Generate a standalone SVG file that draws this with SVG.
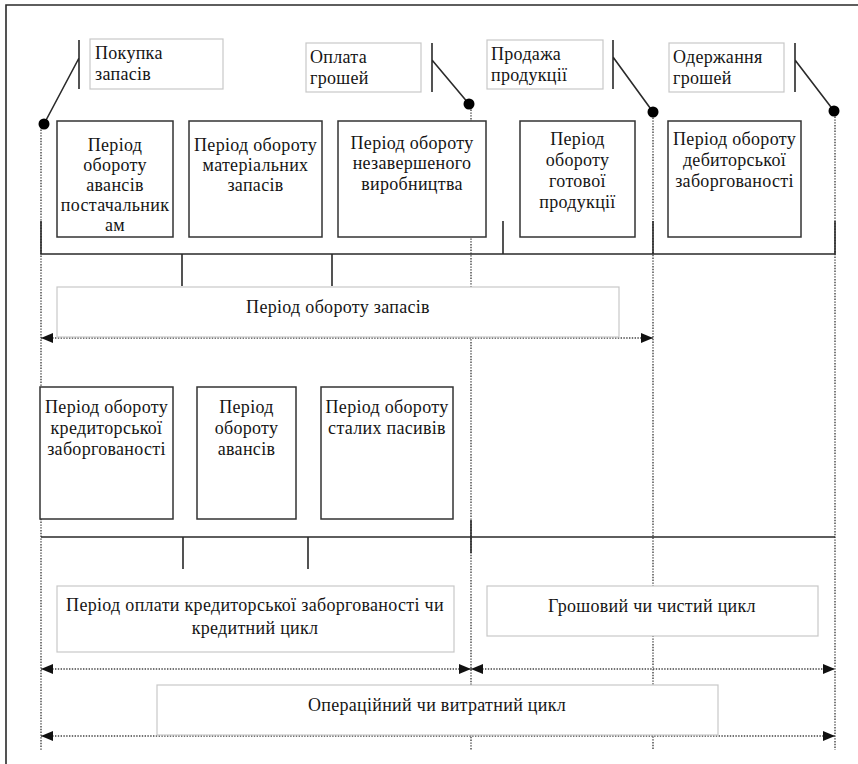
<svg xmlns="http://www.w3.org/2000/svg" width="858" height="764" viewBox="0 0 858 764">
<style>
text{font-family:"Liberation Serif","Times New Roman",serif;font-size:18px;fill:#151515;letter-spacing:0.3px}
.c{text-anchor:middle}
.box{fill:#fff;stroke:#333;stroke-width:1.5}
.lbl{fill:#fff;stroke:#c8c8c8;stroke-width:1.2}
.sol{stroke:#2a2a2a;stroke-width:1.6;fill:none}
.dot{stroke:#444;stroke-width:1.4;stroke-dasharray:1.4 1.4;fill:none}
.arr{stroke:#444;stroke-width:1.4;stroke-dasharray:1.4 1.4;fill:none;marker-start:url(#ah);marker-end:url(#ah)}
</style>
<defs>
<marker id="ah" viewBox="0 0 12 10" refX="12" refY="5" markerWidth="12" markerHeight="10" markerUnits="userSpaceOnUse" orient="auto-start-reverse">
<path d="M0,0 L12,5 L0,10 z" fill="#111"/>
</marker>
</defs>
<rect width="858" height="764" fill="#fff"/>
<path class="sol" d="M6,764 V5 H858"/>

<g id="connectors">
<path class="dot" d="M41,124 V750 M471,104 V750 M653,112 V750 M835,111 V750"/>
<path class="sol" d="M41,221 V254 H835 V221 M503,221 V254 M653,221 V254 M182,254 V286 M332,254 V286"/>
<path class="sol" d="M41,537 H835 M183,537 V569 M308,537 V569 M471,520 V553"/>
<path class="sol" d="M79,40 V89 M79,58 L44,124 M432,43 V92 M432,60 L469,104 M613,40 V89 M613,57 L653,112 M795,43 V92 M795,60 L834,111"/>
<circle cx="44" cy="124" r="5.5" fill="#000"/>
<circle cx="469" cy="104" r="5.5" fill="#000"/>
<circle cx="653" cy="112" r="5.5" fill="#000"/>
<circle cx="834" cy="111" r="5.5" fill="#000"/>
<path class="arr" d="M41,338 H653"/>
<path class="arr" d="M41,669 H471"/>
<path class="arr" d="M471,669 H835"/>
<path class="arr" d="M41,736 H835"/>
</g>

<g id="ev1"><rect class="lbl" x="90" y="39" width="133" height="50"/><text x="95" y="59">Покупка</text><text x="95" y="80">запасів</text></g>
<g id="ev2"><rect class="lbl" x="306" y="43" width="115" height="49"/><text x="310" y="63">Оплата</text><text x="310" y="84">грошей</text></g>
<g id="ev3"><rect class="lbl" x="487" y="40" width="116" height="49"/><text x="491" y="60">Продажа</text><text x="491" y="81">продукції</text></g>
<g id="ev4"><rect class="lbl" x="669" y="43" width="115" height="49"/><text x="673" y="63">Одержання</text><text x="673" y="84">грошей</text></g>

<g id="b1"><rect class="box" x="57" y="121" width="116" height="116"/>
<text class="c" x="115" y="151">Період</text><text class="c" x="115" y="171">обороту</text><text class="c" x="115" y="191">авансів</text><text class="c" x="115" y="211">постачальник</text><text class="c" x="115" y="231">ам</text></g>
<g id="b2"><rect class="box" x="189" y="121" width="133" height="116"/>
<text class="c" x="255.5" y="151">Період обороту</text><text class="c" x="255.5" y="171">матеріальних</text><text class="c" x="255.5" y="191">запасів</text></g>
<g id="b3"><rect class="box" x="338" y="121" width="148" height="116"/>
<text class="c" x="412" y="149">Період обороту</text><text class="c" x="412" y="169">незавершеного</text><text class="c" x="412" y="190">виробництва</text></g>
<g id="b4"><rect class="box" x="520" y="121" width="115" height="116"/>
<text class="c" x="577.5" y="145">Період</text><text class="c" x="577.5" y="166">обороту</text><text class="c" x="577.5" y="187">готової</text><text class="c" x="577.5" y="208">продукції</text></g>
<g id="b5"><rect class="box" x="668" y="121" width="133" height="116"/>
<text class="c" x="734.5" y="145">Період обороту</text><text class="c" x="734.5" y="166">дебиторської</text><text class="c" x="734.5" y="187">заборгованості</text></g>

<g id="p1"><rect class="lbl" x="57" y="287" width="562" height="50"/><text class="c" x="338" y="313">Період обороту запасів</text></g>

<g id="c1"><rect class="box" x="40" y="387" width="133" height="132"/>
<text class="c" x="106.5" y="413">Період обороту</text><text class="c" x="106.5" y="434">кредиторської</text><text class="c" x="106.5" y="455">заборгованості</text></g>
<g id="c2"><rect class="box" x="197" y="387" width="99" height="132"/>
<text class="c" x="246.5" y="413">Період</text><text class="c" x="246.5" y="434">обороту</text><text class="c" x="246.5" y="455">авансів</text></g>
<g id="c3"><rect class="box" x="321" y="387" width="132" height="132"/>
<text class="c" x="387" y="413">Період обороту</text><text class="c" x="387" y="434">сталих пасивів</text></g>

<g id="p2"><rect class="lbl" x="57" y="586" width="397" height="66"/><text class="c" x="255" y="611">Період оплати кредиторської заборгованості чи</text><text class="c" x="255" y="634">кредитний цикл</text></g>
<g id="p3"><rect class="lbl" x="487" y="586" width="331" height="50"/><text class="c" x="652" y="612">Грошовий чи чистий цикл</text></g>
<g id="p4"><rect class="lbl" x="157" y="685" width="561" height="50"/><text class="c" x="437" y="711">Операційний чи витратний цикл</text></g>
</svg>
